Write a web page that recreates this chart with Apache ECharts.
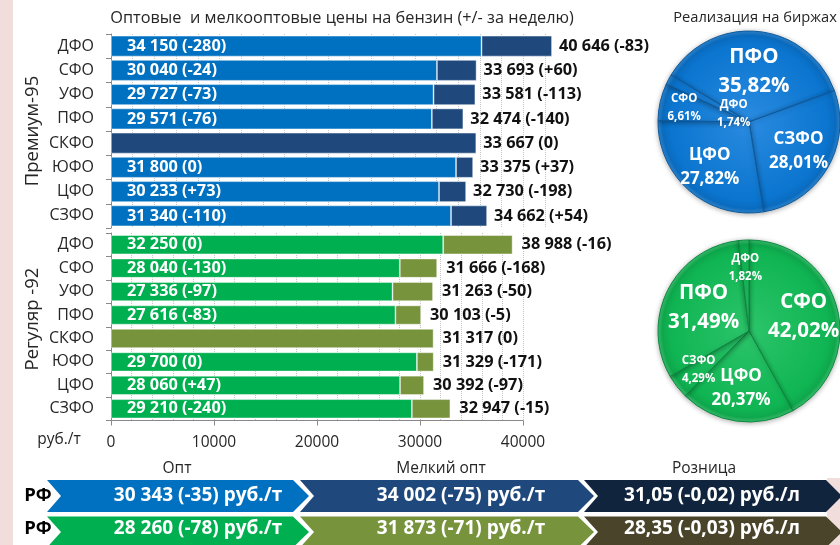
<!DOCTYPE html>
<html>
<head>
<meta charset="utf-8">
<script src="https://cdn.jsdelivr.net/npm/echarts@6/dist/echarts.min.js"></script>
<style>
  html, body { margin: 0; padding: 0; background: #fff; }
  #chart { width: 840px; height: 545px; }
</style>
</head>
<body>
<div id="chart"></div>
<script>
// Federal districts, top to bottom
const districts = ['ДФО', 'СФО', 'УФО', 'ПФО', 'СКФО', 'ЮФО', 'ЦФО', 'СЗФО'];

// Премиум-95: wholesale and small-wholesale prices, руб./т, with weekly change
const premOpt      = [34150, 30040, 29727, 29571, null, 31800, 30233, 31340];
const premOptChg   = [-280, -24, -73, -76, null, 0, 73, -110];
const premSmall    = [40646, 33693, 33581, 32474, 33667, 33375, 32730, 34662];
const premSmallChg = [-83, 60, -113, -140, 0, 37, -198, 54];

// Регуляр-92
const regOpt      = [32250, 28040, 27336, 27616, null, 29700, 28060, 29210];
const regOptChg   = [0, -130, -97, -83, null, 0, 47, -240];
const regSmall    = [38988, 31666, 31263, 30103, 31317, 31329, 30392, 32947];
const regSmallChg = [-16, -168, -50, -5, 0, -171, -97, -15];

// Exchange sales by district, %
const premShareNames = ['ПФО', 'СЗФО', 'ЦФО', 'СФО', 'ДФО'];
const premShares     = [35.82, 28.01, 27.82, 6.61, 1.74];
const regShareNames  = ['СФО', 'ЦФО', 'СЗФО', 'ПФО', 'ДФО'];
const regShares      = [42.02, 20.37, 4.29, 31.49, 1.82];

// Russia-wide summary along the supply chain
const stageNames = ['Опт', 'Мелкий опт', 'Розница'];
const rfPrem = ['30 343 (-35) руб./т', '34 002 (-75) руб./т', '31,05 (-0,02) руб./л'];
const rfReg  = ['28 260 (-78) руб./т', '31 873 (-71) руб./т', '28,35 (-0,03) руб./л'];

// Price axis ticks
const xTicks = [0, 10000, 20000, 30000, 40000];

// ---------------------------------------------------------------------------
const FONT = '"Open Sans", "DejaVu Sans", sans-serif';
const TXT = '#262626';
const AXIS = '#898989';
const GRIDC = '#c4c4c4';

const fmtNum = v => String(v).replace(/\B(?=(\d{3})+(?!\d))/g, ' ');
const fmtChg = c => (c > 0 ? '+' + c : String(c));
const fmtPct = v => v.toFixed(2).replace('.', ',') + '%';

const chart = echarts.init(document.getElementById('chart'), null, { renderer: 'canvas' });

function catAxis(gridIndex) {
  return {
    type: 'category', gridIndex, data: districts, inverse: true,
    axisLine: { lineStyle: { color: AXIS, width: 1 } },
    axisTick: { show: true, length: 5, lineStyle: { color: AXIS } },
    axisLabel: { margin: 17, fontSize: 16, color: TXT, fontFamily: FONT }
  };
}

function valAxis(gridIndex, visible) {
  return {
    type: 'value', gridIndex,
    min: xTicks[0], max: xTicks[xTicks.length - 1], interval: xTicks[1] - xTicks[0],
    axisLine: { show: visible, lineStyle: { color: AXIS } },
    axisTick: { show: visible, length: 5, lineStyle: { color: AXIS } },
    axisLabel: { show: visible, margin: 14, fontSize: 15.5, color: TXT, fontFamily: FONT,
                 formatter: v => String(v) },
    splitLine: { show: true, lineStyle: { type: 'dotted', color: GRIDC, width: 1 } },
    minorTick: { show: false, splitNumber: 5 },
    minorSplitLine: { show: true, lineStyle: { type: 'dotted', color: GRIDC, width: 1 } }
  };
}

function barPair(idx, opt, optChg, small, smallChg, c1, c2, gap, labelGap) {
  const border = { borderColor: 'rgba(255,255,255,0.55)', borderWidth: 0.8 };
  return [
    {
      type: 'bar', xAxisIndex: idx, yAxisIndex: idx, stack: 's' + idx, clip: false,
      barCategoryGap: gap, data: opt,
      itemStyle: Object.assign({ color: c1 }, border),
      label: {
        show: true, position: 'insideLeft', distance: 16, color: '#fff',
        fontFamily: FONT, fontWeight: 'bold', fontSize: 16.3,
        formatter: p => opt[p.dataIndex] == null ? '' :
          fmtNum(opt[p.dataIndex]) + ' (' + fmtChg(optChg[p.dataIndex]) + ')'
      }
    },
    {
      type: 'bar', xAxisIndex: idx, yAxisIndex: idx, stack: 's' + idx, clip: false,
      barCategoryGap: gap, data: small.map((v, i) => v - (opt[i] || 0)),
      itemStyle: Object.assign({ color: c2 }, border),
      label: {
        show: true, position: 'right', distance: labelGap, color: '#111',
        fontFamily: FONT, fontWeight: 'bold', fontSize: 16.3,
        formatter: p => fmtNum(small[p.dataIndex]) + ' (' + fmtChg(smallChg[p.dataIndex]) + ')'
      }
    }
  ];
}

// Share pies: label size follows slice size
function pieSeries(names, values, cx, cy, R, startAngle, palette, labelR) {
  const cls = v => (v >= 30 ? 'big' : v >= 10 ? 'mid' : 'sml');
  return {
    type: 'pie', center: [cx, cy], radius: R, startAngle, clockwise: true,
    animation: false, silent: true,
    data: names.map((n, i) => ({ name: n, value: values[i] })),
    itemStyle: {
      color: {
        type: 'radial', x: cx, y: cy, r: R, global: true,
        colorStops: [
          { offset: 0, color: palette[0] },
          { offset: 0.86, color: palette[1] },
          { offset: 0.95, color: palette[2] },
          { offset: 1, color: palette[3] }
        ]
      },
      borderColor: palette[4], borderWidth: 1,
      shadowBlur: 5, shadowColor: 'rgba(0,0,0,0.3)', shadowOffsetY: 1
    },
    labelLine: { show: false },
    label: {
      show: true, position: 'inside', color: '#fff', fontFamily: FONT, fontWeight: 'bold',
      formatter: p => '{' + cls(p.value) + '|' + p.name + '}\n{' + cls(p.value) + '|' + fmtPct(p.value) + '}',
      rich: {
        big: { fontSize: 20.5, lineHeight: 29, fontWeight: 'bold', color: '#fff', fontFamily: FONT },
        mid: { fontSize: 17, lineHeight: 24, fontWeight: 'bold', color: '#fff', fontFamily: FONT },
        sml: { fontSize: 11.5, lineHeight: 18, fontWeight: 'bold', color: '#fff', fontFamily: FONT }
      }
    },
    labelLayout: p => {
      const r = p.labelRect;
      const dx = r.x + r.width / 2 - cx, dy = r.y + r.height / 2 - cy;
      const d = Math.sqrt(dx * dx + dy * dy) || 1;
      const k = labelR[p.dataIndex] * R;
      return { x: cx + dx / d * k, y: cy + dy / d * k, align: 'center', verticalAlign: 'middle' };
    },
    emphasis: { disabled: true }
  };
}

// Supply-chain chevrons at the bottom
const segs = [{ l: 47, r: 293, tx: 198, hx: 177 }, { l: 300, r: 578, tx: 461, hx: 441 }, { l: 584, r: 826, tx: 712, hx: 704 }];
const NOTCH = 14, TIP = 16;
function chevron(s, top, h, color) {
  const m = top + h / 2, b = top + h;
  return {
    type: 'polygon', silent: true,
    shape: { points: [[s.l, top], [s.r, top], [s.r + TIP, m], [s.r, b], [s.l, b], [s.l + NOTCH, m]] },
    style: { fill: color }
  };
}
function chevText(s, y, t) {
  return {
    type: 'text', x: s.tx, y, silent: true,
    style: { text: t, fill: '#fff', font: 'bold 19px ' + FONT, align: 'center', verticalAlign: 'middle' }
  };
}

const rows = [
  { top: 480, h: 32, ty: 496, colors: ['#0070c0', '#1f497d', '#10243e'], texts: rfPrem },
  { top: 516.5, h: 31, ty: 529, colors: ['#00b050', '#77933c', '#4a452a'], texts: rfReg }
];

const graphics = [
  { type: 'rect', shape: { x: 0, y: 0, width: 13, height: 545 }, style: { fill: '#f1dddc' }, z: -10, silent: true },
  { type: 'rect', shape: { x: 827, y: 478, width: 13, height: 67 }, style: { fill: '#f1dddc' }, z: -10, silent: true },
  { type: 'text', x: 342, y: 18, silent: true,
    style: { text: 'Оптовые  и мелкооптовые цены на бензин (+/- за неделю)', fill: TXT, font: '16.3px ' + FONT, align: 'center', verticalAlign: 'middle' } },
  { type: 'text', x: 755, y: 18, silent: true,
    style: { text: 'Реализация на биржах', fill: TXT, font: '14.7px ' + FONT, align: 'center', verticalAlign: 'middle' } },
  { type: 'text', x: 33, y: 131, rotation: Math.PI / 2, silent: true,
    style: { text: 'Премиум-95', fill: TXT, font: '18.5px ' + FONT, align: 'center', verticalAlign: 'middle' } },
  { type: 'text', x: 33, y: 319, rotation: Math.PI / 2, silent: true,
    style: { text: 'Регуляр -92', fill: TXT, font: '18.5px ' + FONT, align: 'center', verticalAlign: 'middle' } },
  { type: 'text', x: 59, y: 440, silent: true,
    style: { text: 'руб./т', fill: TXT, font: '15.5px ' + FONT, align: 'center', verticalAlign: 'middle' } }
];
segs.forEach((s, i) => {
  graphics.push({ type: 'text', x: s.hx, y: 469, silent: true,
    style: { text: stageNames[i], fill: TXT, font: '15.5px ' + FONT, align: 'center', verticalAlign: 'middle' } });
});
rows.forEach(row => {
  segs.forEach((s, i) => {
    graphics.push(chevron(s, row.top, row.h, row.colors[i]));
    graphics.push(chevText(s, row.ty, row.texts[i]));
  });
  graphics.push({ type: 'text', x: 38, y: row.ty, silent: true,
    style: { text: 'РФ', fill: '#000', font: 'bold 18.5px ' + FONT, align: 'center', verticalAlign: 'middle' } });
});

const option = {
  backgroundColor: '#fff',
  animation: false,
  textStyle: { fontFamily: FONT },
  grid: [
    { left: 111, top: 34, width: 434, height: 194, containLabel: false },
    { left: 111, top: 233, width: 412, height: 187.5, containLabel: false }
  ],
  yAxis: [catAxis(0), catAxis(1)],
  xAxis: [valAxis(0, false), valAxis(1, true)],
  series: [
    ...barPair(0, premOpt, premOptChg, premSmall, premSmallChg, '#0070c0', '#1f497d', '14%', 7),
    ...barPair(1, regOpt, regOptChg, regSmall, regSmallChg, '#00b050', '#77933c', '18%', 9),
    pieSeries(premShareNames, premShares, 749, 122, 91, 149,
      ['#2a8be0', '#0b75cf', '#0a6cc0', '#2f86d0', '#0d5a9e'], [0.56, 0.63, 0.66, 0.73, 0.19]),
    pieSeries(regShareNames, regShares, 749, 331, 91, 90,
      ['#2cc46a', '#10b553', '#0ea84c', '#3cc070', '#0b8a3e'], [0.62, 0.63, 0.70, 0.56, 0.70])
  ],
  graphic: graphics
};
chart.setOption(option);
</script>
</body>
</html>
